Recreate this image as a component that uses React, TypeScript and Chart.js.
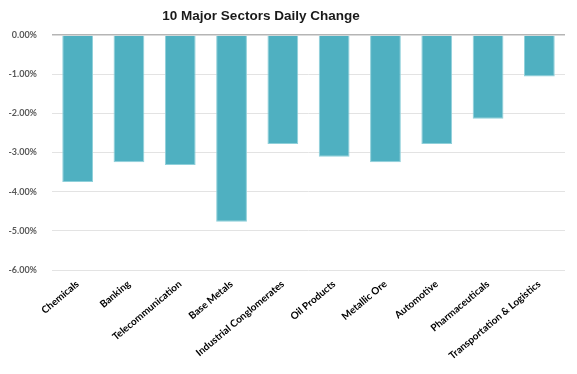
import React, { useEffect, useRef } from "react";
import { Chart, registerables } from "chart.js";

Chart.register(...registerables);

const categories = [
  "Chemicals",
  "Banking",
  "Telecommunication",
  "Base Metals",
  "Industrial Conglomerates",
  "Oil Products",
  "Metallic Ore",
  "Automotive",
  "Pharmaceuticals",
  "Transportation & Logistics",
];
const dailyChange = [-3.75, -3.25, -3.32, -4.77, -2.78, -3.11, -3.25, -2.78, -2.14, -1.06];
const yMin = -6;
const yMax = 0;
const yStep = 1;
const titleText = "10 Major Sectors Daily Change";

const titlePlugin = {
  id: "offsetTitle",
  afterDraw(chart: any) {
    const ctx = chart.ctx;
    ctx.save();
    ctx.font = "bold 13.5px 'Liberation Sans'";
    ctx.fillStyle = "#1a1a1a";
    ctx.textAlign = "center";
    ctx.textBaseline = "middle";
    ctx.fillText(titleText, 261, 16);
    ctx.restore();
  },
};

export default function App() {
  const ref = useRef<HTMLCanvasElement>(null);
  useEffect(() => {
    document.body.style.margin = "0";
    const chart = new Chart(ref.current!, {
      type: "bar",
      data: {
        labels: categories,
        datasets: [
          {
            data: dailyChange,
            backgroundColor: "#4fb0c1",
            borderColor: "#8fd0da",
            borderWidth: 1,
            categoryPercentage: 1,
            barPercentage: 0.6,
          },
        ],
      },
      plugins: [titlePlugin],
      options: {
        animation: false,
        responsive: false,
        layout: { padding: { left: 0, right: 12, top: 35, bottom: 0 } },
        plugins: {
          legend: { display: false },
          tooltip: { enabled: false },
          title: { display: false },
        },
        scales: {
          x: {
            grid: { display: false },
            border: { display: false },
            afterFit: (s: any) => {
              s.paddingLeft = 0;
              s.paddingRight = 0;
              s.height = 104;
            },
            ticks: {
              color: "#000",
              font: { family: "Lato", size: 10, weight: "bold" },
              maxRotation: 40,
              minRotation: 40,
              autoSkip: false,
              padding: 0,
            },
          },
          y: {
            min: yMin,
            max: yMax,
            border: { display: false },
            afterFit: (s: any) => {
              s.width = 52;
              s.paddingTop = 0;
              s.paddingBottom = 0;
            },
            grid: {
              color: (c: any) => (c.tick && c.tick.value === 0 ? "#b5b5b5" : "#e3e3e3"),
              lineWidth: (c: any) => (c.tick && c.tick.value === 0 ? 1.5 : 1),
              drawTicks: false,
            },
            ticks: {
              stepSize: yStep,
              color: "#595959",
              padding: 15,
              font: { family: "Lato", size: 9, weight: "bold" },
              callback: (v: any) => Number(v).toFixed(2) + "%",
            },
          },
        },
      },
    });
    return () => chart.destroy();
  }, []);
  return (
    <div style={{ position: "absolute", left: 0, top: 0, width: 577, height: 374, background: "#fff" }}>
      <canvas ref={ref} width={577} height={374} />
    </div>
  );
}
